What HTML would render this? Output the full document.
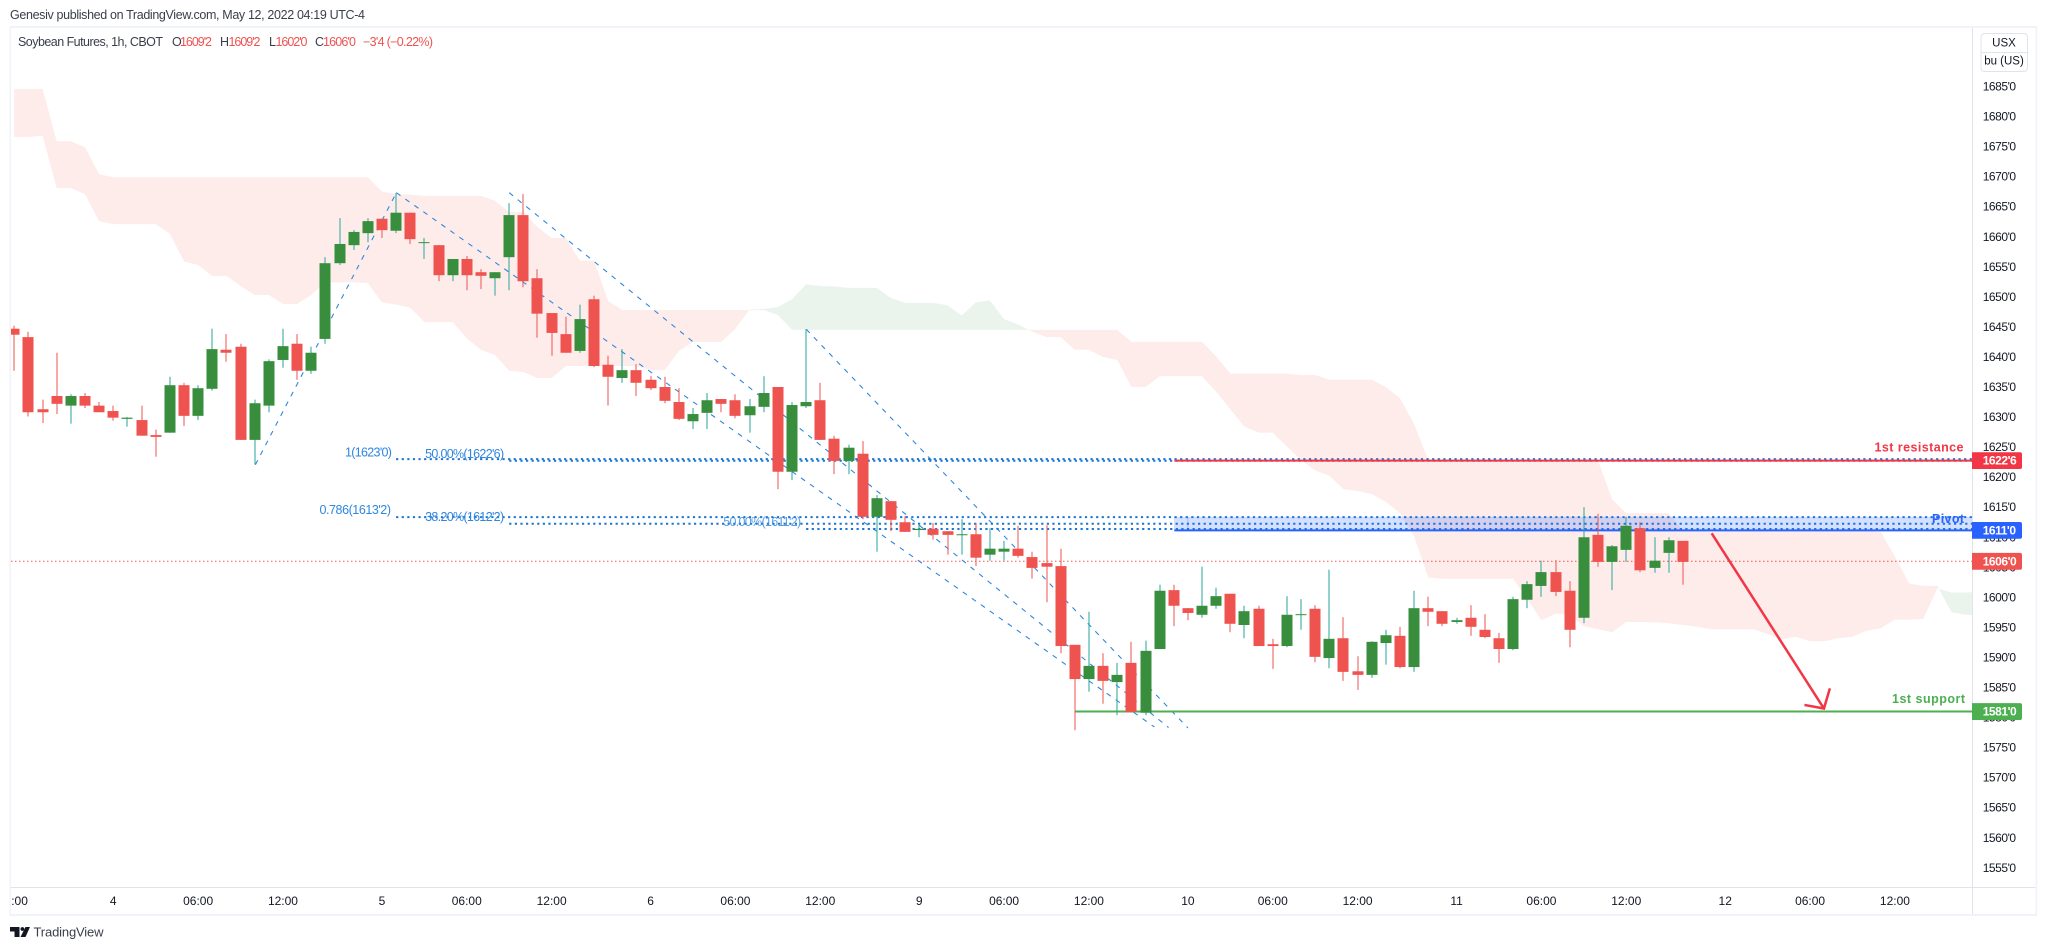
<!DOCTYPE html>
<html lang="en">
<head>
<meta charset="utf-8">
<title>Soybean Futures 1h chart</title>
<style>
html,body{margin:0;padding:0;background:#fff;width:2046px;height:950px;overflow:hidden}
svg{display:block;font-family:"Liberation Sans",Arial,sans-serif}
text{dominant-baseline:central}
</style>
</head>
<body>
<svg id="chart" xmlns="http://www.w3.org/2000/svg" width="2046" height="950" viewBox="0 0 2046 950">
  <rect x="0" y="0" width="2046" height="950" fill="#ffffff"/>
  <text x="10" y="15" font-size="12.5" fill="#3a3e4a" textLength="355" lengthAdjust="spacing">Genesiv published on TradingView.com, May 12, 2022 04:19 UTC-4</text>
  <rect x="9.5" y="26" width="2027.5" height="2" fill="#f0f3fa"/>
  <rect x="9.5" y="26" width="1.5" height="890" fill="#f0f3fa"/>
  <rect x="2035.5" y="26" width="1.7" height="890" fill="#f0f3fa"/>
  <rect x="9.5" y="914" width="2027.5" height="2" fill="#f0f3fa"/>
  <defs>
    <clipPath id="plot-clip"><rect x="11" y="28" width="1961" height="859"/></clipPath>
  </defs>
  <g id="plot" clip-path="url(#plot-clip)"></g>
  <g id="overlay"></g>
  <line x1="1972.5" y1="28" x2="1972.5" y2="914" stroke="#e0e3eb" stroke-width="1"/>
  <line x1="11" y1="887.5" x2="2035.5" y2="887.5" stroke="#e0e3eb" stroke-width="1"/>
  <g id="price-axis"></g>
  <g id="time-axis"></g>
  <g>
    <rect x="1981" y="33.5" width="46.5" height="38" rx="3.5" fill="#fff" stroke="#e0e3eb"/>
    <line x1="1981" y1="52.5" x2="2027.5" y2="52.5" stroke="#e0e3eb"/>
    <text x="2004" y="43.5" font-size="11.5" fill="#131722" text-anchor="middle">USX</text>
    <text x="2004" y="61.5" font-size="11.5" fill="#131722" text-anchor="middle">bu (US)</text>
  </g>
  <g font-size="12.5">
    <text x="18" y="42" fill="#3a3e4a" textLength="145" lengthAdjust="spacing">Soybean Futures, 1h, CBOT</text>
    <text x="172" y="42" fill="#3a3e4a">O</text>
    <text x="180" y="42" fill="#ef5350" textLength="32" lengthAdjust="spacing">1609'2</text>
    <text x="220" y="42" fill="#3a3e4a">H</text>
    <text x="228.5" y="42" fill="#ef5350" textLength="32" lengthAdjust="spacing">1609'2</text>
    <text x="269" y="42" fill="#3a3e4a">L</text>
    <text x="275.5" y="42" fill="#ef5350" textLength="32" lengthAdjust="spacing">1602'0</text>
    <text x="315" y="42" fill="#3a3e4a">C</text>
    <text x="323" y="42" fill="#ef5350" textLength="33" lengthAdjust="spacing">1606'0</text>
    <text x="363" y="42" fill="#ef5350" textLength="70" lengthAdjust="spacing">−3'4 (−0.22%)</text>
  </g>
  <g>
    <path d="M10 927h9.5v10h-5v-5.5h-4.5z" fill="#131722"/>
    <circle cx="22.4" cy="929" r="1.9" fill="#131722"/>
    <polygon points="25.5,927 30,927 25.5,937 20.5,937" fill="#131722"/>
    <text x="33.5" y="932" font-size="13" fill="#3a3e4a" textLength="70" lengthAdjust="spacing">TradingView</text>
  </g>
</svg>
<script>
// ---- chart data (prices in USX/bu, positions in bar index) ----
const opens = [1644.7,1643.3,1631.3,1633.5,1631.9,1633.5,1631.9,1631.0,1629.7,1629.5,1627.0,1627.4,1635.3,1630.2,1634.7,1641.2,1641.7,1626.2,1631.9,1639.5,1642.2,1637.7,1643.0,1655.6,1658.6,1660.6,1663.0,1661.0,1664.0,1659.0,1658.6,1653.6,1656.3,1654.1,1653.1,1656.6,1663.6,1653.1,1647.3,1643.8,1641.0,1649.6,1638.7,1636.5,1637.8,1636.2,1635.0,1632.5,1629.3,1630.7,1633.0,1632.8,1630.3,1631.7,1635.0,1620.9,1631.8,1632.8,1626.4,1622.7,1623.9,1613.4,1616.0,1612.5,1611.2,1611.4,1611.0,1610.4,1610.5,1607.1,1607.6,1608.1,1606.7,1605.7,1605.2,1592.1,1586.4,1588.6,1585.9,1589.1,1580.8,1591.4,1601.2,1598.2,1597.1,1598.6,1600.6,1595.4,1598.1,1592.2,1591.9,1597.1,1598.1,1589.9,1593.2,1587.7,1587.1,1592.4,1593.6,1588.4,1598.2,1597.7,1595.9,1596.6,1594.6,1593.2,1591.4,1599.6,1601.9,1604.2,1601.1,1596.6,1610.4,1605.9,1607.9,1611.5,1604.9,1607.4,1609.4];
const highs = [1645.2,1644.2,1632.9,1640.7,1633.8,1634.0,1632.5,1631.9,1630.0,1631.9,1627.9,1636.7,1635.7,1635.3,1644.7,1643.8,1642.2,1632.9,1639.6,1644.7,1643.8,1641.7,1656.6,1663.1,1661.1,1663.1,1663.0,1667.3,1664.0,1659.8,1658.6,1656.3,1656.8,1654.6,1654.1,1665.6,1667.1,1654.6,1647.3,1646.7,1648.7,1650.2,1640.2,1641.3,1638.8,1636.8,1636.7,1634.8,1631.5,1634.0,1633.0,1633.8,1633.0,1636.8,1635.0,1632.5,1644.6,1635.7,1626.9,1625.4,1626.0,1617.0,1616.0,1613.5,1612.2,1612.4,1611.0,1613.0,1612.4,1611.5,1609.4,1611.9,1607.6,1612.0,1608.1,1592.1,1597.6,1590.7,1589.1,1592.6,1592.8,1602.1,1602.1,1598.2,1605.1,1601.6,1600.6,1598.6,1598.6,1593.1,1600.2,1599.7,1598.7,1604.6,1596.7,1590.2,1592.7,1594.6,1595.1,1601.1,1600.1,1597.7,1596.6,1598.7,1597.2,1594.1,1600.1,1602.7,1606.1,1606.2,1602.7,1615.0,1613.9,1608.7,1613.4,1612.5,1610.0,1610.0,1609.4];
const lows = [1637.7,1630.1,1629.0,1630.5,1628.9,1631.5,1630.8,1629.4,1628.4,1626.9,1623.4,1627.4,1628.5,1629.5,1634.4,1639.2,1626.2,1622.1,1630.8,1638.2,1636.2,1637.2,1642.2,1655.3,1657.8,1659.1,1659.8,1660.6,1658.8,1656.3,1652.6,1652.6,1651.1,1651.3,1650.2,1651.1,1651.6,1643.2,1640.2,1640.7,1640.7,1638.3,1631.9,1635.7,1633.5,1634.5,1632.3,1629.5,1628.0,1628.0,1630.8,1629.8,1627.4,1630.8,1618.0,1619.5,1631.5,1626.2,1620.5,1620.5,1613.0,1607.6,1611.0,1610.9,1610.0,1609.6,1607.1,1607.1,1605.2,1606.1,1606.1,1606.6,1603.1,1599.2,1590.7,1577.9,1584.3,1582.3,1580.4,1580.9,1580.4,1591.4,1595.2,1596.2,1596.6,1598.1,1594.2,1593.2,1591.9,1588.1,1591.7,1594.6,1589.2,1588.2,1586.1,1584.6,1586.6,1588.8,1588.2,1587.6,1595.2,1595.2,1595.6,1593.6,1593.2,1589.1,1591.2,1598.2,1600.1,1600.2,1591.7,1595.7,1605.1,1601.2,1605.9,1604.2,1604.1,1604.1,1602.1];
const closes = [1643.7,1630.8,1630.8,1632.2,1633.5,1631.9,1630.8,1629.9,1629.9,1626.9,1626.7,1635.3,1630.2,1634.8,1641.3,1640.7,1626.2,1632.3,1639.3,1641.8,1637.7,1640.7,1655.6,1658.8,1660.8,1662.6,1661.1,1664.0,1659.6,1659.1,1653.6,1656.3,1653.6,1653.5,1654.1,1663.6,1652.6,1647.2,1644.0,1640.7,1646.3,1638.5,1636.7,1637.8,1635.7,1634.8,1632.7,1629.7,1630.5,1632.8,1632.2,1630.2,1631.8,1634.0,1620.9,1632.0,1632.5,1626.2,1622.7,1624.9,1613.4,1616.5,1612.9,1610.9,1611.4,1610.4,1610.4,1610.5,1606.6,1608.1,1608.1,1606.9,1604.9,1605.1,1591.9,1586.4,1588.6,1586.1,1587.1,1580.9,1591.1,1601.1,1598.6,1597.4,1598.6,1600.2,1595.6,1597.7,1591.9,1591.9,1597.1,1597.2,1590.1,1593.1,1587.6,1587.1,1592.6,1593.7,1588.4,1598.2,1597.6,1595.6,1596.2,1595.1,1593.4,1591.4,1599.7,1602.2,1604.2,1600.9,1594.6,1610.0,1605.9,1608.5,1611.9,1604.5,1606.1,1609.5,1605.9];

const spanA = [1676.6,1676.6,1676.8,1668.1,1668.1,1667.1,1662.6,1662.1,1662.1,1662.1,1662.1,1660.5,1655.9,1655.3,1653.5,1653.5,1651.8,1650.3,1650.3,1648.8,1648.8,1650.3,1652.4,1652.4,1652.4,1652.3,1649.1,1648.7,1648.2,1645.8,1645.8,1645.8,1643.1,1641.2,1640.3,1637.7,1637.5,1636.5,1636.5,1638.5,1638.5,1638.5,1638.5,1638.5,1638.5,1637.8,1637.8,1641.0,1642.5,1642.5,1642.5,1644.7,1647.9,1648.0,1648.3,1649.6,1652.1,1651.8,1651.75,1651.5,1651.5,1651.5,1649.8,1649.0,1649.0,1649.0,1648.6,1646.9,1649.1,1649.4,1646.3,1645.4,1644.2,1643.3,1643.3,1641.2,1641.2,1640.0,1639.5,1635.0,1635.0,1636.8,1636.8,1636.8,1636.8,1634.2,1631.3,1628.4,1627.4,1627.4,1625.1,1622.9,1621.1,1620.25,1618.0,1617.7,1617.2,1615.9,1614.0,1610.1,1603.3,1603.1,1603.1,1603.1,1603.1,1603.1,1603.1,1599.7,1596.2,1597.3,1597.1,1595.2,1594.7,1594.2,1595.9,1595.9,1595.85,1595.7,1595.4,1595.1,1594.7,1594.7,1594.7,1594.7,1593.9,1593.0,1593.45,1592.7,1592.7,1593.2,1593.45,1594.45,1594.85,1596.3,1596.3,1596.4,1601.5,1600.8,1600.8,1600.95];
const spanB = [1684.6,1684.6,1684.6,1675.9,1675.9,1674.9,1670.4,1669.9,1669.9,1669.9,1669.9,1669.9,1669.9,1669.9,1669.9,1669.9,1669.9,1669.9,1669.9,1669.9,1669.9,1669.9,1669.9,1669.9,1669.9,1669.9,1667.5,1667.1,1667.0,1666.8,1666.8,1666.8,1666.8,1666.8,1666.0,1664.1,1664.1,1661.6,1659.8,1659.8,1656.0,1656.0,1649.3,1647.8,1647.8,1647.8,1647.8,1647.8,1647.8,1647.8,1647.8,1647.8,1647.8,1647.8,1647.0,1644.5,1644.5,1644.5,1644.5,1644.5,1644.5,1644.5,1644.5,1644.5,1644.5,1644.5,1644.5,1644.5,1644.5,1644.5,1644.5,1644.5,1644.5,1644.5,1644.5,1644.5,1644.5,1644.5,1644.5,1642.5,1642.5,1642.5,1642.5,1642.5,1642.5,1640.1,1637.2,1637.2,1637.2,1637.2,1637.2,1637.0,1637.0,1636.2,1636.2,1636.2,1636.2,1635.0,1633.1,1628.8,1622.8,1622.8,1622.8,1622.8,1622.8,1622.8,1622.8,1622.8,1622.8,1622.8,1622.8,1622.8,1622.8,1616.3,1614.0,1614.0,1614.0,1614.0,1611.1,1611.1,1611.1,1611.1,1611.1,1611.1,1611.1,1611.1,1611.1,1611.1,1611.1,1611.1,1611.1,1611.1,1610.9,1606.8,1602.3,1601.9,1601.9,1597.5,1597.1,1597.0];

const priceTicks = [1685,1680,1675,1670,1665,1660,1655,1650,1645,1640,1635,1630,1625,1620,1615,1610,1605,1600,1595,1590,1585,1580,1575,1570,1565,1560,1555];
const timeTickBars = [0.37,7,13,19,26,32,38,45,51,57,64,70,76,83,89,95,102,108,114,121,127,133];
const timeTickLabels = [":00","4","06:00","12:00","5","06:00","12:00","6","06:00","12:00","9","06:00","12:00","10","06:00","12:00","11","06:00","12:00","12","06:00","12:00"];

// fib level lines: price, first bar index
const fibPrices = [1623.0,1622.72,1613.35,1612.25,1611.37];
const fibStartBars = [27,35,27,35,56];

// dashed trend / fib channel lines: [bar, price, bar, price]
const trendBarsA = [17.05,27.02,35.0,56.01];
const trendPricesA = [1622.07,1667.33,1667.33,1644.6];
const trendBarsB = [27.02,80.63,81.63,83.0];
const trendPricesB = [1667.33,1578.43,1578.34,1578.26];

const resistancePrice = 1622.75;
const pivotPrice = 1611.15;
const supportPrice = 1581;
const lastPrice = 1606;
const levelStartBar = 82.04;
const supportStartBar = 75;
const zoneTopPrice = 1613.37;
const zoneInnerBar = 83;
const arrowBars = [120.04,127.98,128.4,126.6];
const arrowPrices = [1610.66,1581.5,1584.86,1582.1];

// ---- axis functions ----
const plotRight = 1972;
function xOf(bar){ return 14.3 + 14.14 * bar; }
function yOf(price){ return 86.5 + (1685 - price) * 6.01; }
function barOfRight(){ return (plotRight - 14.3) / 14.14; }

const NS = "http://www.w3.org/2000/svg";
const plot = document.getElementById("plot");
const overlay = document.getElementById("overlay");
const priceAxis = document.getElementById("price-axis");
const timeAxis = document.getElementById("time-axis");
function mk(parent, tag, attrs, content){
  const el = document.createElementNS(NS, tag);
  for (const k in attrs) el.setAttribute(k, attrs[k]);
  if (content !== undefined) el.textContent = content;
  parent.appendChild(el);
  return el;
}

// ---- ichimoku cloud ----
let redPath = "", greenPath = "";
function quad(i0, a0, b0, i1, a1, b1){
  const d = "M" + xOf(i0) + " " + yOf(a0) + "L" + xOf(i1) + " " + yOf(a1) + "L" + xOf(i1) + " " + yOf(b1) + "L" + xOf(i0) + " " + yOf(b0) + "Z";
  if ((a0 + a1) >= (b0 + b1)) greenPath += d; else redPath += d;
}
for (let i = 0; i < spanA.length - 1; i++){
  const d0 = spanA[i] - spanB[i], d1 = spanA[i+1] - spanB[i+1];
  if (d0 * d1 < 0){
    const t = d0 / (d0 - d1), c = spanA[i] + t * (spanA[i+1] - spanA[i]);
    quad(i, spanA[i], spanB[i], i + t, c, c);
    quad(i + t, c, c, i + 1, spanA[i+1], spanB[i+1]);
  } else {
    quad(i, spanA[i], spanB[i], i + 1, spanA[i+1], spanB[i+1]);
  }
}
const cloudRed = mk(plot, "path", {d: redPath, fill: "#fdecea"});


const cloudGreen = mk(plot, "path", {d: greenPath, fill: "#ebf4ec"});



// ---- last price line ----
const lastLine = mk(plot, "line", {x1: 11, x2: plotRight, y1: yOf(lastPrice), y2: yOf(lastPrice), stroke: "#ef5350", "stroke-width": 1, "stroke-dasharray": "1.5 2.5"});



// ---- dashed trend lines ----
trendBarsA.forEach(function(b, i){
  const ln = mk(plot, "line", {x1: xOf(b), y1: yOf(trendPricesA[i]), x2: xOf(trendBarsB[i]), y2: yOf(trendPricesB[i]), stroke: "#2f86e0", "stroke-width": 1.1, "stroke-dasharray": "5 6"});
  
  
});

// ---- fibonacci level dotted lines ----
fibPrices.forEach(function(p, i){
  const ln = mk(plot, "line", {x1: xOf(fibStartBars[i]), y1: yOf(p), x2: plotRight, y2: yOf(p), stroke: "#1976d2", "stroke-width": 2, "stroke-dasharray": "2.2 3.4"});
  
  
});

// ---- pivot zone ----
const zoneX = xOf(levelStartBar);
const zone = mk(plot, "rect", {x: zoneX, y: yOf(zoneTopPrice), width: plotRight - zoneX, height: yOf(pivotPrice) - yOf(zoneTopPrice), fill: "#2962ff", "fill-opacity": 0.2, stroke: "#2962ff", "stroke-opacity": 0.15, "stroke-width": 0.5});


const zoneInner = mk(plot, "line", {x1: xOf(zoneInnerBar), x2: xOf(zoneInnerBar), y1: yOf(zoneTopPrice), y2: yOf(pivotPrice), stroke: "#2962ff", "stroke-opacity": 0.3, "stroke-width": 1});



// ---- horizontal levels ----
const resLine = mk(plot, "line", {x1: zoneX, x2: plotRight, y1: yOf(resistancePrice), y2: yOf(resistancePrice), stroke: "#f23645", "stroke-width": 2});


const pivotLine = mk(plot, "line", {x1: zoneX, x2: plotRight, y1: yOf(pivotPrice), y2: yOf(pivotPrice), stroke: "#2962ff", "stroke-width": 2});


const supLine = mk(plot, "line", {x1: xOf(supportStartBar), x2: plotRight, y1: yOf(supportPrice), y2: yOf(supportPrice), stroke: "#4caf50", "stroke-width": 2});



// ---- candles ----
opens.forEach(function(o, i){
  const c = closes[i], up = c >= o;
  const cx = Math.round(xOf(i));
  const wick = mk(plot, "rect", {x: cx - 0.5, y: yOf(highs[i]), width: 1, height: yOf(lows[i]) - yOf(highs[i]), fill: up ? "#26a69a" : "#ef5350"});
  
  
  const top = yOf(Math.max(o, c)), h = Math.max(1, yOf(Math.min(o, c)) - top);
  const body = mk(plot, "rect", {x: cx - 5.5, y: top, width: 11, height: h, fill: up ? "#388e3c" : "#ef5350"});
  
  
});

// ---- arrow ----
const arrowShaft = mk(plot, "line", {x1: xOf(arrowBars[0]), y1: yOf(arrowPrices[0]), x2: xOf(arrowBars[1]), y2: yOf(arrowPrices[1]), stroke: "#f23645", "stroke-width": 2.5});


const arrowHead = mk(plot, "polyline", {points: xOf(arrowBars[2]) + "," + yOf(arrowPrices[2]) + " " + xOf(arrowBars[1]) + "," + yOf(arrowPrices[1]) + " " + xOf(arrowBars[3]) + "," + yOf(arrowPrices[3]), fill: "none", stroke: "#f23645", "stroke-width": 2.5});



// ---- fib labels ----
const fibLabelText = ["1(1623'0)","50.00%(1622'6)","0.786(1613'2)","38.20%(1612'2)","50.00%(1611'2)"];
const fibLabelBars = [26.71,34.64,26.64,34.64,55.65];
const fibLabelPrices = [1624.1,1623.85,1614.5,1613.35,1612.55];
const fibLabelWidths = [47,79,71.5,79,78];
fibLabelText.forEach(function(t, i){
  const lb = mk(overlay, "text", {x: xOf(fibLabelBars[i]), y: yOf(fibLabelPrices[i]), "font-size": 12.5, fill: "#2f86e0", "text-anchor": "end", textLength: fibLabelWidths[i], lengthAdjust: "spacing", opacity: i === 4 ? 0.8 : 1}, t);
  
  
});

// ---- annotation text ----
const resText = mk(overlay, "text", {x: 1963.5, y: yOf(resistancePrice) - 13, "font-size": 12.5, "font-weight": 700, fill: "#f23645", "text-anchor": "end", textLength: 89, lengthAdjust: "spacing"}, "1st resistance");


const pivText = mk(overlay, "text", {x: 1964, y: yOf(pivotPrice) - 11.5, "font-size": 12.5, "font-weight": 700, fill: "#2962ff", "text-anchor": "end", textLength: 32, lengthAdjust: "spacing"}, "Pivot");


const supText = mk(overlay, "text", {x: 1965, y: yOf(supportPrice) - 12.3, "font-size": 12.5, "font-weight": 700, fill: "#4caf50", "text-anchor": "end", textLength: 73, lengthAdjust: "spacing"}, "1st support");



// ---- price axis ----
priceTicks.forEach(function(p){
  const t = mk(priceAxis, "text", {x: 1982.7, y: yOf(p), "font-size": 12, fill: "#131722", "letter-spacing": "-0.45"}, p + "'0");
  
  
});
const tagPrices = [resistancePrice, pivotPrice, lastPrice, supportPrice];
const tagLabels = ["1622'6","1611'0","1606'0","1581'0"];
const tagColors = ["#f23645","#2962ff","#ef5350","#4caf50"];
tagPrices.forEach(function(p, i){
  const y = yOf(p);
  const box = mk(priceAxis, "path", {d: "M1972 " + (y-8.4) + "h48a2 2 0 0 1 2 2v12.8a2 2 0 0 1 -2 2h-48z", fill: tagColors[i]});
  
  
  const t = mk(priceAxis, "text", {x: 1982.7, y: y, "font-size": 12, "font-weight": 700, fill: "#ffffff", "letter-spacing": "-0.45"}, tagLabels[i]);
  
  
});

// ---- time axis ----
timeTickBars.forEach(function(b, i){
  const t = mk(timeAxis, "text", {x: xOf(b), y: 901, "font-size": 12, fill: "#131722", "text-anchor": "middle"}, timeTickLabels[i]);
  
  
});
</script>
</body>
</html>
